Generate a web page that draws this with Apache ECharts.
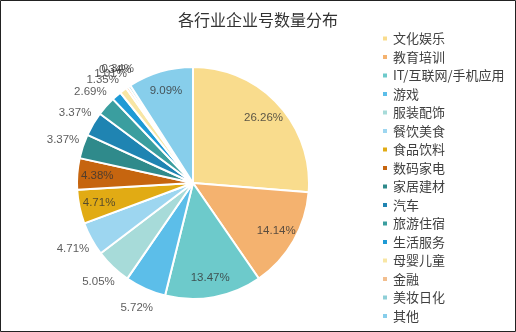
<!DOCTYPE html>
<html><head><meta charset="utf-8">
<script src="https://cdn.jsdelivr.net/npm/echarts@6/dist/echarts.min.js"></script>
<style>html,body{margin:0;padding:0;background:#fff}#c{width:516px;height:332px}</style>
</head><body><div id="c"></div>
<script>
const titleText = '各行业企业号数量分布';
const categories = ['文化娱乐','教育培训','IT/互联网/手机应用','游戏','服装配饰','餐饮美食','食品饮料','数码家电','家居建材','汽车','旅游住宿','生活服务','母婴儿童','金融','美妆日化','其他'];
const shares = [26.26,14.14,13.47,5.72,5.05,4.71,4.71,4.38,3.37,3.37,2.69,1.35,1.01,0.34,0.34,9.09];
const colors = ['#F9DC8D','#F4B26F','#6DCACB','#5CBEE9','#A7DBD9','#9DD6F0','#E1AB14','#C6650F','#2F8A8B','#1F84B2','#3A9E9F','#1E9AD5','#F8E6A4','#F2BE8E','#8ECFD7','#87CEEB'];
const insideLabelNames = ['文化娱乐','教育培训','IT/互联网/手机应用','食品饮料','数码家电','其他'];

const chart = echarts.init(document.getElementById('c'), null, {renderer:'canvas'});
const center = [193, 183];
const R = 116;
const outerR = 150;
const total = shares.reduce((a,b)=>a+b,0);
const labelFont = {fontFamily:'"Liberation Sans", Arial, sans-serif', fontSize:11.5, color:'#333'};

// label points in polar coords: angle = cumulative midpoint of slice, radius = inside/outside ring
let cum = 0;
const labelPoints = categories.map((n,i)=>{
  const mid = cum + shares[i]/2;
  cum += shares[i];
  const r = insideLabelNames.includes(n) ? 96 : 137;
  return {name:n, value:[r, mid], label:{formatter: shares[i].toFixed(2)+'%'}};
});

chart.setOption({
  animation:false,
  color: colors,
  title:{text:titleText, left:'center', top:12, padding:0,
    textStyle:{fontFamily:'"Noto Sans CJK SC", sans-serif', fontSize:16, fontWeight:'normal', color:'#333'}},
  legend:{orient:'vertical', left:381, top:32, height:300, padding:0, itemWidth:6, itemHeight:6, itemGap:5.5, icon:'rect',
    selectedMode:false, data:categories,
    textStyle:{fontFamily:'"Noto Sans CJK SC", sans-serif', fontSize:13, lineHeight:13, color:'#404040'}},
  polar:{center:center, radius:outerR},
  angleAxis:{type:'value', min:0, max:total, startAngle:90, clockwise:true, show:false},
  radiusAxis:{type:'value', min:0, max:outerR, show:false},
  graphic:[{type:'rect', shape:{x:0.5,y:0.5,width:515,height:331}, style:{fill:'none', stroke:'#222', lineWidth:1}, z:100}],
  series:[
    {type:'pie', center:center, radius:[0,R], startAngle:90, clockwise:true,
     label:{show:false}, labelLine:{show:false}, emphasis:{disabled:true},
     itemStyle:{borderColor:'#fff', borderWidth:2},
     data: categories.map((n,i)=>({name:n, value:shares[i], itemStyle:{color:colors[i]}}))},
    {type:'scatter', coordinateSystem:'polar', silent:true, z:10, symbolSize:1,
     itemStyle:{color:'rgba(0,0,0,0)'}, emphasis:{disabled:true}, legendHoverLink:false,
     label:{show:true, position:'inside', ...labelFont},
     data: labelPoints}
  ]
});
</script></body></html>
